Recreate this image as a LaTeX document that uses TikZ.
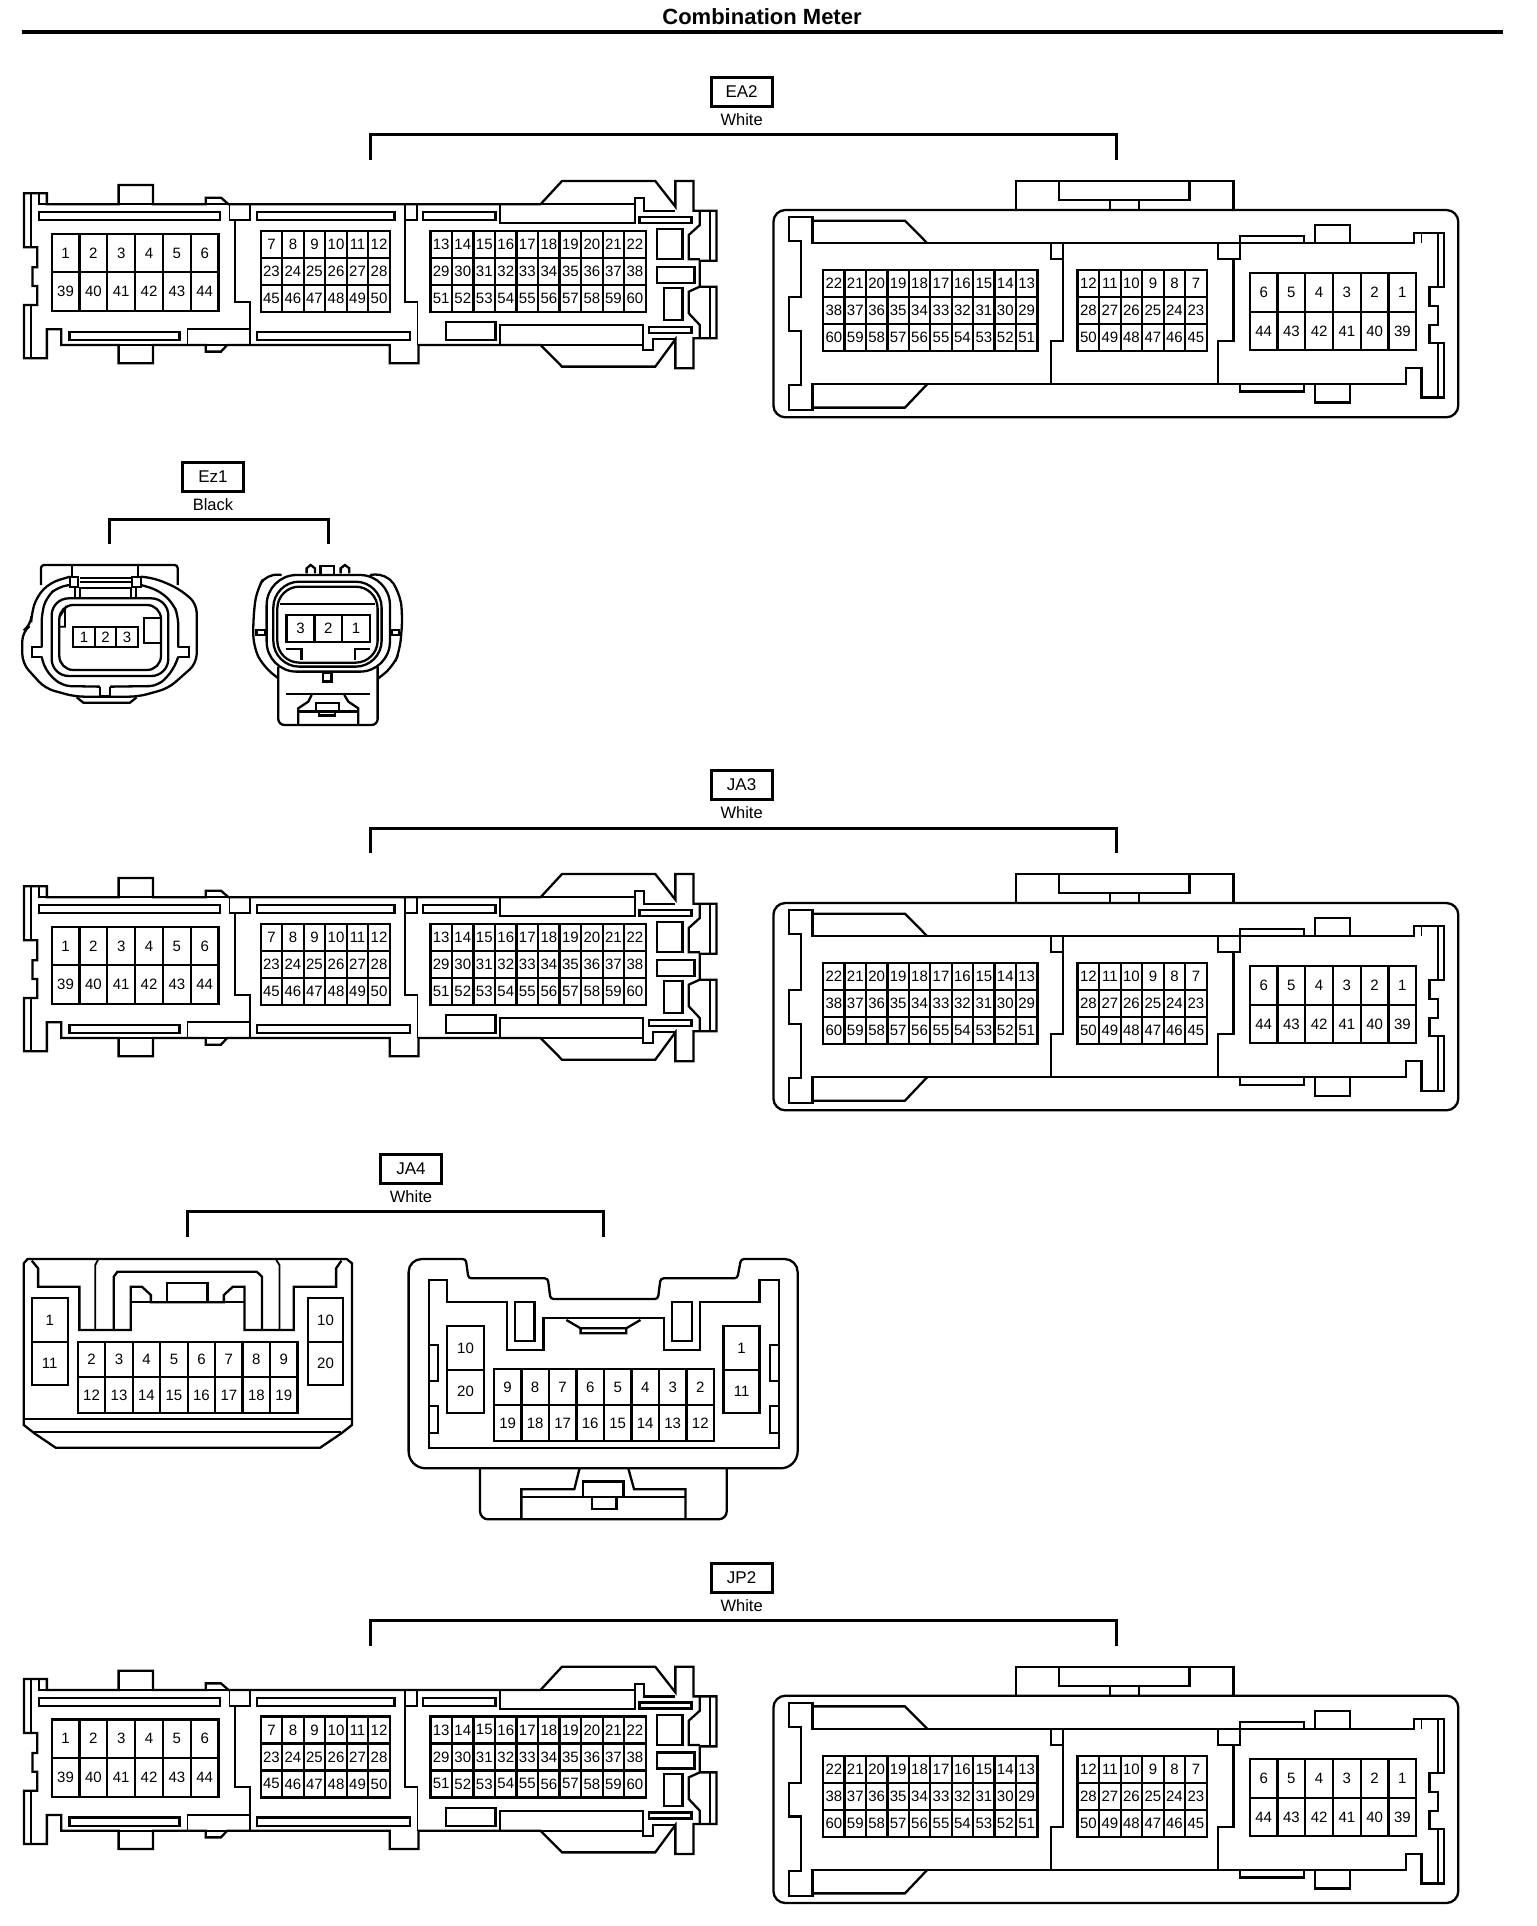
\documentclass[tikz,border=0pt]{standalone}
\usepackage{fontspec}
\setmainfont{Liberation Sans}
\tikzset{%
  plugline/.style = {draw, line width=2.3pt, line join=miter},%
  thinline/.style = {draw, line width=1.8pt},%
  tagbox/.style   = {draw, line width=2.8pt, minimum width=61pt, minimum height=29pt, inner sep=0pt, font=\fontsize{17}{17}\selectfont},%
  tagcolour/.style= {inner sep=0pt, font=\fontsize{16.5}{17}\selectfont},%
  bracket/.style  = {draw, line width=3pt},%
  pinlabel/.style = {inner sep=0pt, font=\fontsize{15}{15}\selectfont},%
  longunit/.style = {x=0.4783pt, y=-0.3333pt},%
  squareunit/.style = {x=0.3333pt, y=-0.3333pt},%
  wideunit/.style = {x=0.5293pt, y=-0.3333pt}%
}
% one row of pins: x0, dx, y0, y1, labels, prefix
\newcommand{\pinrow}[6]{%
  \foreach \lab [count=\i from 0] in {#5} {%
    \draw[plugline] ({#1+\i*#2},#3) rectangle ({#1+(\i+1)*#2},#4);
    \node[pinlabel] (#6\lab) at ({#1+(\i+0.5)*#2},{(#3+#4)/2}) {\lab};
  }%
}
% connector tag with its bracket: name, text, colour, x, y, left, right, bottom, rise
\newcommand{\plugtag}[9]{%
  \node[tagbox] (#1) at (#4,#5) {#2};
  \node[tagcolour] (#1col) at (#4,#5+28) {#3};
  \coordinate (#1l) at (#6,#8);
  \coordinate (#1r) at (#7,#8);
  \draw[bracket] (#1l) -- ++(0,-#9) -| (#1r);
}
% long connector seen from the terminal side
\newcommand{\longplug}[2]{%
\begin{scope}[longunit, yshift=-#2pt]
  \draw[plugline] (50,70) -- (98,70) -- (98,103) -- (248,103) -- (248,45) -- (320,45) -- (320,103)
    -- (430,103) -- (430,83) -- (462,83) -- (478,103) -- (1130,103) -- (1175,33) -- (1370,33) -- (1412,110)
    -- (1412,33) -- (1450,33) -- (1450,122) -- (1498,122) -- (1498,272) -- (1463,272) -- (1463,350)
    -- (1498,350) -- (1498,505) -- (1450,505) -- (1450,595) -- (1412,595) -- (1412,508) -- (1370,590)
    -- (1175,590) -- (1130,525) -- (875,525) -- (875,580) -- (815,580) -- (815,525) -- (475,525)
    -- (462,545) -- (430,545) -- (430,525) -- (320,525) -- (320,580) -- (248,580) -- (248,525)
    -- (128,525) -- (128,478) -- (98,478) -- (98,565) -- (50,565) -- (50,405) -- (78,405) -- (78,348)
    -- (68,348) -- (68,292) -- (78,292) -- (78,232) -- (50,232) -- cycle;
  \draw[plugline] (248,103) -- (320,103) (430,103) -- (478,103) (248,525) -- (320,525) (430,525) -- (475,525);
  \draw[thinline] (65,70) -- (65,232) (65,405) -- (65,565) (1484,122) -- (1484,272) (1484,350) -- (1484,505);
  \draw[thinline] (82,70) -- (82,103) -- (98,103);
  \draw[plugline] (1463,122) -- (1463,165) -- (1440,195) -- (1440,268) -- (1463,268);
  \draw[plugline] (1463,350) -- (1440,365) -- (1440,430) -- (1463,465) -- (1463,505);
  % slots along the top and bottom
  \draw[plugline] (82,127) rectangle (460,150) (537,127) rectangle (825,150) (884,127) rectangle (1036,150);
  \draw[plugline] (145,485) rectangle (375,510) (537,485) rectangle (857,510) (932,457) rectangle (1036,510);
  \draw[thinline] (392,525) -- (392,478) -- (523,478);
  \draw[plugline] (1130,103) -- (1327,103) (1045,103) -- (1045,160) -- (1327,160) -- (1327,85) -- (1347,85) -- (1347,122) -- (1412,122);
  \draw[plugline] (1130,525) -- (1345,525) (1045,525) -- (1045,465) -- (1345,465) -- (1345,540) -- (1365,540) -- (1365,508) -- (1412,508);
  \draw[plugline] (1337,140) rectangle (1446,158) (1357,470) rectangle (1446,488);
  \draw[plugline] (1373,178) rectangle (1427,268) (1373,290) rectangle (1452,338) (1388,355) rectangle (1427,450);
  % walls between the pin groups
  \draw[thinline] (480,103) -- (480,150) -- (523,150) -- (523,103);
  \draw[thinline] (492,150) -- (492,395) -- (523,395) -- (523,525);
  \draw[thinline] (847,103) -- (847,150) -- (872,150) -- (872,103);
  \draw[thinline] (847,150) -- (847,395) -- (873,395) -- (873,525);
  \pinrow{108}{58.17}{191}{307}{1,2,3,4,5,6}{#1l}
  \pinrow{108}{58.17}{307}{423}{39,40,41,42,43,44}{#1l}
  \pinrow{545}{45}{182}{263}{7,8,9,10,11,12}{#1l}
  \pinrow{545}{45}{263}{344}{23,24,25,26,27,28}{#1l}
  \pinrow{545}{45}{344}{425}{45,46,47,48,49,50}{#1l}
  \pinrow{900}{45}{182}{263}{13,14,15,16,17,18,19,20,21,22}{#1l}
  \pinrow{900}{45}{263}{344}{29,30,31,32,33,34,35,36,37,38}{#1l}
  \pinrow{900}{45}{344}{425}{51,52,53,54,55,56,57,58,59,60}{#1l}
\end{scope}
}
% long connector seen from the wire side
\newcommand{\hoodplug}[2]{%
\begin{scope}[longunit, xshift=760pt, yshift=-#2pt]
  \draw[plugline, rounded corners=12pt] (28,120) rectangle (1460,742);
  \draw[plugline] (535,120) -- (535,33) -- (990,33) -- (990,120);
  \draw[plugline] (625,33) -- (625,90) -- (898,90) -- (898,33);
  \draw[thinline] (732,90) -- (732,120) (792,90) -- (792,120);
  \draw[plugline] (60,142) -- (60,213) -- (85,213) -- (85,382) -- (60,382) -- (60,482) -- (85,482) -- (85,645)
    -- (60,645) -- (60,720) -- (110,720) -- (110,642) -- (1350,642) -- (1350,595) -- (1383,595) -- (1383,683)
    -- (1430,683) -- (1430,520) -- (1400,520) -- (1400,465) -- (1417,465) -- (1417,408) -- (1400,408)
    -- (1400,352) -- (1430,352) -- (1430,190) -- (1367,190) -- (1367,220) -- (110,220) -- (110,142) -- cycle;
  \draw[thinline] (1418,190) -- (1418,352) (1418,520) -- (1418,683) (1383,190) -- (1383,220);
  \draw[plugline] (110,152) -- (303,152) -- (350,220) (110,713) -- (303,713) -- (350,642);
  \draw[plugline] (1003,220) -- (1003,198) -- (1137,198) -- (1137,220) (1160,220) -- (1160,165) -- (1233,165) -- (1233,220);
  \draw[plugline] (1003,642) -- (1003,665) -- (1137,665) -- (1137,642) (1160,642) -- (1160,698) -- (1233,698) -- (1233,642);
  \draw[plugline] (608,220) -- (608,268) -- (633,268) -- (633,220) (633,268) -- (633,513) -- (608,513) -- (608,642);
  \draw[plugline] (957,220) -- (957,268) -- (1003,268) -- (1003,220) (990,268) -- (990,513) -- (957,513) -- (957,642);
  \pinrow{132}{44.8}{300}{381}{22,21,20,19,18,17,16,15,14,13}{#1r}
  \pinrow{132}{44.8}{381}{462}{38,37,36,35,34,33,32,31,30,29}{#1r}
  \pinrow{132}{44.8}{462}{543}{60,59,58,57,56,55,54,53,52,51}{#1r}
  \pinrow{664}{45}{300}{381}{12,11,10,9,8,7}{#1r}
  \pinrow{664}{45}{381}{462}{28,27,26,25,24,23}{#1r}
  \pinrow{664}{45}{462}{543}{50,49,48,47,46,45}{#1r}
  \pinrow{1024}{58}{310}{426}{6,5,4,3,2,1}{#1r}
  \pinrow{1024}{58}{426}{541}{44,43,42,41,40,39}{#1r}
\end{scope}
}
\begin{document}
\begin{tikzpicture}[x=1pt,y=-1pt]
  \useasboundingbox (0,0) rectangle (1536,1926);
  % title
  \node[inner sep=0pt, font=\bfseries\fontsize{22}{22}\selectfont] (title) at (762,17) {Combination Meter};
  \coordinate (barl) at (21.5,31.7);
  \coordinate (barr) at (1503,31.7);
  \draw[line width=4pt] (barl) -- (barr);

  % EA2
  \plugtag{ea}{EA2}{White}{741.6}{92}{370}{1116}{160}{25}
  \longplug{ea}{170}
  \hoodplug{ea}{170}

  % Ez1
  \plugtag{ez}{Ez1}{Black}{213}{477}{109}{328}{544}{25}
  \begin{scope}[squareunit, xshift=15pt, yshift=-560pt]
    \draw[plugline, rounded corners=3pt] (78,75) -- (78,15) -- (488,15) -- (488,75);
    \draw[plugline] (172,15) -- (172,50) (368,15) -- (368,50);
    \draw[thinline] (195,55) -- (348,55) (195,67) -- (348,67) (195,85) -- (348,85);
    \draw[plugline, rounded corners=9pt] (165,50) -- (105,68) -- (65,110) -- (50,160) -- (48,195) -- (22,215) -- (22,310)
      -- (90,385) -- (180,410) -- (370,410) -- (460,385) -- (545,310) -- (545,130) -- (490,85) -- (420,55) -- (378,50);
    \draw[plugline, rounded corners=9pt] (80,262) -- (80,160) -- (95,110) -- (130,80) -- (165,75);
    \draw[plugline, rounded corners=9pt] (490,262) -- (490,170) -- (475,130) -- (430,90) -- (378,75);
    \draw[plugline, rounded corners=9pt] (80,290) -- (90,330) -- (140,378) -- (255,380);
    \draw[plugline, rounded corners=9pt] (490,290) -- (475,330) -- (430,378) -- (285,380);
    \draw[plugline] (80,262) -- (50,262) -- (50,290) -- (80,290) (490,262) -- (522,262) -- (522,290) -- (490,290);
    \draw[plugline] (255,380) -- (255,408) -- (285,408) -- (285,380);
    \draw[plugline] (185,412) -- (205,428) -- (345,428) -- (365,412);
    \draw[plugline, rounded corners=17pt] (110,115) rectangle (460,348);
    \draw[plugline, rounded corners=14pt] (133,135) rectangle (438,330);
    \draw[plugline] (165,52) rectangle (190,82) (350,52) rectangle (378,82);
    \draw[thinline] (180,82) -- (180,115) (195,82) -- (195,115) (348,82) -- (348,115) (362,82) -- (362,115);
    \draw[thinline] (135,170) -- (150,145) -- (150,200) -- (135,200);
    \draw[plugline] (440,175) -- (388,175) -- (388,250) -- (440,250);
    \pinrow{175}{64.5}{200}{262}{1,2,3}{ezl}
  \end{scope}
  \begin{scope}[squareunit, yshift=-450pt]
    \draw[plugline, rounded corners=12pt] (845,375) -- (800,370) -- (770,420) -- (760,500) -- (760,590) -- (790,650) -- (835,685);
    \draw[plugline, rounded corners=12pt] (1110,375) -- (1160,370) -- (1200,430) -- (1208,500) -- (1200,600) -- (1180,650) -- (1135,685);
    \draw[plugline, rounded corners=30pt] (800,375) rectangle (1170,665);
    \draw[plugline, rounded corners=26pt] (820,395) rectangle (1145,650);
    \draw[plugline, rounded corners=22pt] (832,410) rectangle (1133,638);
    \draw[plugline] (962,372) -- (962,347) -- (1003,347) -- (1003,372);
    \draw[plugline] (920,370) -- (920,355) -- (932,345) -- (945,355) -- (945,370);
    \draw[plugline] (1022,370) -- (1022,355) -- (1035,345) -- (1048,355) -- (1048,370);
    \draw[plugline] (840,462) -- (1125,462);
    \draw[plugline] (770,540) rectangle (795,555) (1175,540) rectangle (1198,555);
    \draw[plugline] (858,598) -- (905,598) -- (905,630) (1110,598) -- (1065,598) -- (1065,630);
    \pinrow{860}{83.3}{495}{575}{3,2,1}{ezr}
    \draw[plugline, rounded corners=6pt] (835,650) -- (835,825) -- (1133,825) -- (1133,650);
    \draw[plugline] (970,670) rectangle (995,695);
    \draw[plugline] (858,733) -- (1110,733);
    \draw[plugline] (895,825) -- (895,775) -- (925,755) -- (935,735);
    \draw[plugline] (1075,825) -- (1075,775) -- (1045,755) -- (1033,735);
    \draw[plugline] (895,785) -- (1075,785);
    \draw[plugline] (948,785) -- (948,760) -- (1018,760) -- (1018,785) (958,785) -- (958,797) -- (1005,797) -- (1005,785);
  \end{scope}

  % JA3
  \plugtag{jt}{JA3}{White}{741.6}{785}{370}{1116}{853}{25}
  \longplug{jt}{863}
  \hoodplug{jt}{863}

  % JA4
  \plugtag{jf}{JA4}{White}{411}{1169}{187}{603}{1236.5}{25}
  \begin{scope}[wideunit, yshift=-1150pt]
    \draw[plugline] (45,340) -- (52,327) -- (655,327) -- (665,340) -- (665,825) -- (645,850) -- (605,893)
      -- (105,893) -- (65,850) -- (45,825) -- cycle;
    \draw[plugline] (45,808) -- (665,808) (60,847) -- (645,847);
    \draw[plugline] (60,332) -- (72,355) -- (72,410) -- (150,410) -- (150,540) -- (247,540) -- (247,410) -- (268,410)
      -- (285,435) -- (285,457) -- (423,457) -- (423,435) -- (440,410) -- (462,410) -- (462,540) -- (555,540)
      -- (555,410) -- (635,410) -- (635,355) -- (645,332);
    \draw[plugline] (247,457) -- (462,457) (315,457) -- (315,400) -- (392,400) -- (392,457);
    \draw[plugline] (215,540) -- (215,380) -- (222,365) -- (485,365) -- (495,380) -- (495,540);
    \draw[thinline] (180,540) -- (180,345) -- (185,330) (528,540) -- (528,345) -- (522,330);
    \pinrow{60}{68}{445}{575}{1}{jfl}
    \pinrow{60}{68}{575}{705}{11}{jfl}
    \pinrow{582}{66}{445}{575}{10}{jfl}
    \pinrow{582}{66}{575}{705}{20}{jfl}
    \pinrow{147}{51.9}{575}{682}{2,3,4,5,6,7,8,9}{jfl}
    \pinrow{147}{51.9}{682}{788}{12,13,14,15,16,17,18,19}{jfl}
  \end{scope}
  \begin{scope}[wideunit, yshift=-1150pt]
    \draw[plugline] (772,600) [rounded corners=13pt] -- (772,327) [rounded corners=3pt] -- (880,327) -- (885,385) -- (1035,385) -- (1040,447)
      -- (1243,447) -- (1248,385) -- (1393,385) -- (1400,327) [rounded corners=13pt] -- (1507,327) [rounded corners=17pt] -- (1507,955) -- (772,955) -- cycle;
    \draw[plugline] (810,390) -- (845,390) -- (845,457) -- (958,457) -- (958,600) -- (1027,600) -- (1027,505)
      -- (1255,505) -- (1255,600) -- (1322,600) -- (1322,457) -- (1435,457) -- (1435,390) -- (1472,390)
      -- (1472,895) -- (810,895) -- cycle;
    \draw[plugline] (973,457) rectangle (1010,573) (1270,457) rectangle (1307,573);
    \draw[plugline] (1070,510) -- (1097,535) -- (1097,550) -- (1183,550) -- (1183,535) -- (1210,510) (1097,535) -- (1183,535);
    \draw[plugline] (810,585) rectangle (827,692) (810,768) rectangle (827,848);
    \draw[plugline] (1455,585) rectangle (1472,692) (1455,768) rectangle (1472,848);
    \pinrow{845}{69}{528}{660}{10}{jfr}
    \pinrow{845}{69}{660}{788}{20}{jfr}
    \pinrow{1367}{68}{528}{660}{1}{jfr}
    \pinrow{1367}{68}{660}{788}{11}{jfr}
    \pinrow{933}{52}{658}{766}{9,8,7,6,5,4,3,2}{jfr}
    \pinrow{933}{52}{766}{872}{19,18,17,16,15,14,13,12}{jfr}
    \draw[plugline, rounded corners=8pt] (907,955) -- (907,1108) -- (1373,1108) -- (1373,955);
    \draw[plugline] (1095,955) -- (1085,1018) -- (985,1018) -- (985,1105);
    \draw[plugline] (1187,955) -- (1198,1018) -- (1295,1018) -- (1295,1105);
    \draw[plugline] (985,1042) -- (1295,1042);
    \draw[plugline] (1102,1042) -- (1102,995) -- (1178,995) -- (1178,1042);
    \draw[plugline] (1118,1042) -- (1118,1078) -- (1165,1078) -- (1165,1042);
  \end{scope}

  % JP2
  \plugtag{jp}{JP2}{White}{741.6}{1577.7}{370}{1116}{1645.7}{25}
  \longplug{jp}{1655.7}
  \hoodplug{jp}{1655.7}
\end{tikzpicture}
\end{document}
